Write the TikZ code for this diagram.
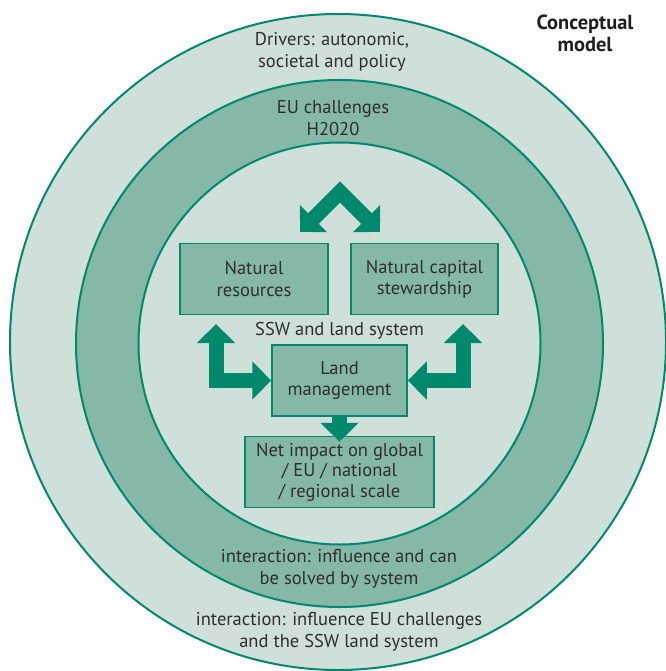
\documentclass[tikz,border=0pt]{standalone}
\usepackage{fontspec}
\setmainfont{PT Sans}
\usetikzlibrary{
  arrows.meta,
  positioning
}
\definecolor{ringlight}{HTML}{CFDFD9}
\definecolor{ringmid}{HTML}{86B8A7}
\definecolor{rimgreen}{HTML}{00896A}
\definecolor{inkgray}{HTML}{2E2E2E}

\begin{document}
\begin{tikzpicture}[
  x=1bp, y=-1bp,
  every node/.style = {align=center, text=inkgray,
    font=\fontsize{18.6}{21.5}\selectfont},
  fathead/.tip = {Triangle[length=19bp, width=37bp]},
  box/.style = {draw=rimgreen, line width=1.5bp, fill=ringmid,
    minimum height=71bp, inner sep=0pt},
  fat/.style = {draw=rimgreen, line width=15bp, fathead-fathead},
  ring/.style = {draw=rimgreen, line width=2bp}]
  \tikzstyle{title}=[font=\fontsize{20.5}{22}\selectfont\bfseries, text=black!88]
  \useasboundingbox (0,0) rectangle (666,671);

  % the three rings
  \path[ring, fill=ringlight] (338,342) circle [radius=328bp];
  \path[ring, fill=ringmid] (339.5,343.5) circle [radius=263.5bp];
  \path[ring, fill=ringlight] (339.5,343.5) circle [radius=201bp];

  \node[title] (concept) at (585,33) {Conceptual\\model};
  \node (drivers) at (332,52) {Drivers: autonomic,\\societal and policy};
  \node (eu) at (333,118) {EU challenges\\H2020};
  \node (inner) at (339,569) {interaction: influence and can\\be solved by system};
  \node (outer) at (339,632) {interaction: influence EU challenges\\and the SSW land system};

  % land system boxes
  \node[box, minimum width=135bp] (land) at (339.5,380.5) {Land\\management};
  \node[box, minimum width=148bp, above=29bp of land, xshift=-85.5bp] (resources) {Natural\\resources};
  \node[box, minimum width=147bp, above=29bp of land, xshift=85bp] (capital) {Natural capital\\stewardship};
  \node[box, minimum width=189bp, below=19bp of land, font=\fontsize{18.6}{20.5}\selectfont] (impact) {Net impact on global\\/ EU / national\\/ regional scale};
  \node (ssw) at (339.5,331) {SSW and land system};

  \coordinate (apex) at (340,192);
  \coordinate (tipL) at (300,232);
  \coordinate (tipR) at (380,232);
  \coordinate (upL) at (216,324);
  \coordinate (upR) at (463,324);

  \draw[fat] (tipL) -- (apex) -- (tipR);
  \draw[fat] (land.west) -| (upL);
  \draw[fat] (land.east) -| (upR);
  \draw[fat, -fathead] (land.south) -- ([yshift=-6bp]impact.north);
\end{tikzpicture}
\end{document}
